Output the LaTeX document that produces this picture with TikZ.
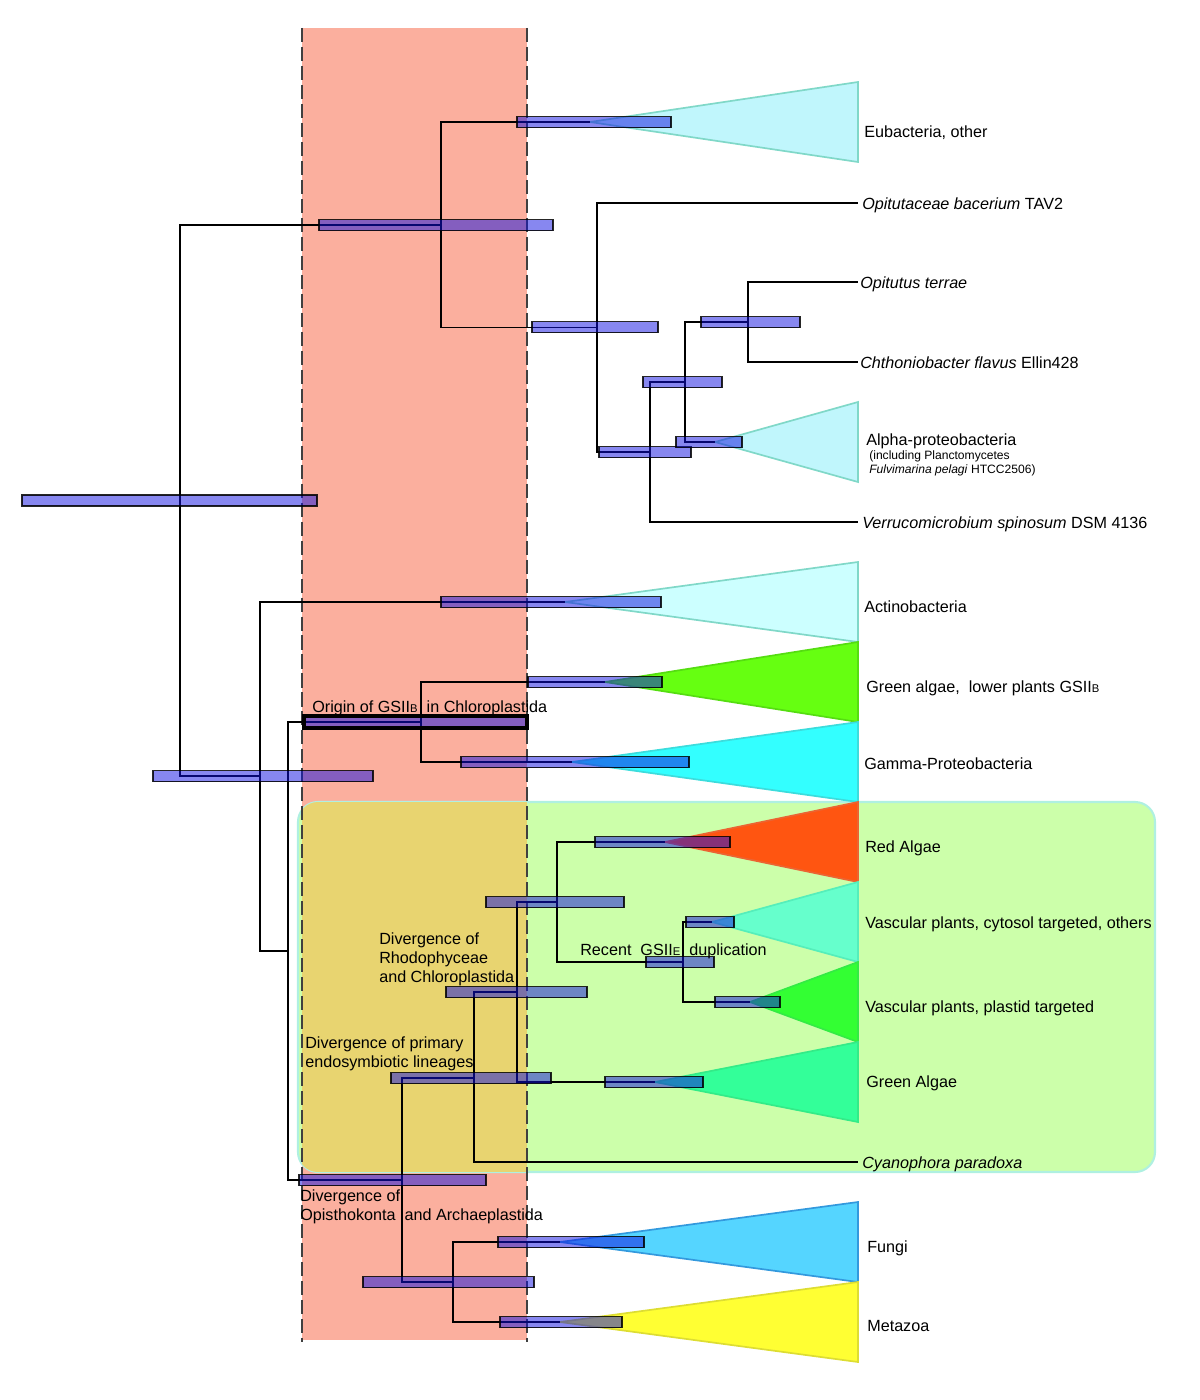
\documentclass[tikz,border=0pt]{standalone}
\usepackage{fontspec}
\setmainfont{Liberation Sans}

\definecolor{bandred}{RGB}{251,175,158}
\definecolor{boxgreen}{RGB}{204,255,170}
\definecolor{boxedge}{RGB}{175,240,225}
\definecolor{overlap}{RGB}{232,212,112}
\definecolor{hpdblue}{RGB}{15,15,225}
\definecolor{paleCyan}{RGB}{192,246,252}
\definecolor{paleCyanEdge}{RGB}{128,216,200}
\definecolor{actCyan}{RGB}{204,255,255}
\definecolor{cladeLime}{RGB}{102,255,17}
\definecolor{cladeLimeEdge}{RGB}{85,221,17}
\definecolor{cladeAqua}{RGB}{51,255,255}
\definecolor{cladeAquaEdge}{RGB}{60,220,220}
\definecolor{cladeRed}{RGB}{255,85,17}
\definecolor{cladeRedEdge}{RGB}{235,100,50}
\definecolor{cladeMint}{RGB}{102,255,204}
\definecolor{cladeMintEdge}{RGB}{85,238,187}
\definecolor{cladePlastid}{RGB}{51,255,51}
\definecolor{cladePlastidEdge}{RGB}{51,235,68}
\definecolor{cladeGreen}{RGB}{51,255,153}
\definecolor{cladeGreenEdge}{RGB}{51,235,136}
\definecolor{cladeFungi}{RGB}{85,213,255}
\definecolor{cladeFungiEdge}{RGB}{51,153,221}
\definecolor{cladeMeta}{RGB}{255,255,51}
\definecolor{cladeMetaEdge}{RGB}{221,221,51}

\newcommand{\lowsc}[1]{{\fontsize{8}{8}\selectfont #1}}

\begin{document}
\begin{tikzpicture}[x=0.025cm,y=-0.025cm,
    branch/.style={draw=black,line width=1.4pt},
    hpd/.style={draw=black,draw opacity=0.85,fill=hpdblue,fill opacity=0.5,line width=0.8pt},
    clade/.style={line width=1.2pt},
    lab/.style={anchor=base west,inner sep=0pt,font=\fontsize{11.5}{13.5}\selectfont},
    minor/.style={anchor=base west,inner sep=0pt,font=\fontsize{8.6}{10}\selectfont},
    note/.style={anchor=west,inner sep=0pt,align=left,font=\fontsize{11.5}{13.5}\selectfont}]
  \useasboundingbox (0,0) rectangle (1200,1400);

  % time window and plastid box
  \fill[bandred] (302,28) rectangle (527,1340);
  \filldraw[fill=boxgreen,draw=boxedge,line width=1.5pt,rounded corners=0.5cm]
    (298,802) rectangle (1155,1172);
  \begin{scope}
    \clip[rounded corners=0.5cm] (298,802) rectangle (1155,1172);
    \fill[overlap] (302,802) rectangle (527,1172);
  \end{scope}
  \foreach \x in {302,527}{
    \draw[black!75,line width=0.8pt,dash pattern=on 10pt off 3.5pt] (\x,28) -- (\x,1342);
  }

  \def \Nodes{
    root/180/500.5, E/441/225, A/597/327.5, B/650/452,
    C/685/382, D/748/322, F/260/776, G/288/951,
    H/421/722, I/402/1180, K/474/1078, J/517/992,
    L/557/902, M/683/962, N/453/1282,
    eub/590/122, opi/858/203, ote/858/282, cfl/858/362,
    alp/715/442, ver/858/522, act/565/602, gab/605/682,
    gam/572/762, red/665/842, vcy/712/922, vpl/750/1002,
    gra/655/1082, cya/858/1162, fun/560/1242, met/560/1322}
  \def \Clades{
    eub/122/paleCyan/paleCyanEdge,
    alp/442/paleCyan/paleCyanEdge,
    act/602/actCyan/paleCyanEdge,
    gab/682/cladeLime/cladeLimeEdge,
    gam/762/cladeAqua/cladeAquaEdge,
    red/842/cladeRed/cladeRedEdge,
    vcy/922/cladeMint/cladeMintEdge,
    vpl/1002/cladePlastid/cladePlastidEdge,
    gra/1082/cladeGreen/cladeGreenEdge,
    fun/1242/cladeFungi/cladeFungiEdge,
    met/1322/cladeMeta/cladeMetaEdge}
  \def \Edges{
    root/E, root/F, E/eub, E/A, A/opi, A/B, B/C, B/ver,
    C/D, C/alp, D/ote, D/cfl, F/act, F/G, G/H, G/I,
    H/gab, H/gam, I/K, I/N, K/J, K/cya, J/L, J/gra,
    L/red, L/M, M/vcy, M/vpl, N/fun, N/met}
  \def \Bars{
    22/317/500.5, 319/553/225, 517/671/122, 532/658/327,
    701/800/322, 643/722/382, 599/691/452, 676/742/442,
    441/661/602, 528/662/682, 304/527/722, 461/689/762,
    153/373/776, 595/730/842, 486/624/902, 686/734/922,
    646/714/962, 446/587/992, 715/780/1002, 391/551/1078,
    605/703/1082, 299/486/1180, 498/644/1242, 363/534/1282,
    500/622/1322}

  \foreach \id / \x / \y in \Nodes{
    \coordinate (\id) at (\x, \y);
  }
  \foreach \id / \y / \fc / \dc in \Clades{
    \filldraw[clade,fill=\fc,draw=\dc] (\id) -- (858, \y-40) -- (858, \y+40) -- cycle;
  }
  \foreach \p / \c in \Edges{
    \path[branch] (\p) |- (\c);
  }
  \foreach \l / \r / \y in \Bars{
    \path[hpd] (\l, \y-5.5) rectangle (\r, \y+5.5);
  }
  \draw[line width=2.4pt] (304,716) rectangle (527,728);

  % tip labels
  \node[lab] (eubL) at (864,137) {Eubacteria, other};
  \node[lab] (opiL) at (862,209) {\textit{Opitutaceae bacerium} TAV2};
  \node[lab] (oteL) at (860,288) {\textit{Opitutus terrae}};
  \node[lab] (cflL) at (860,368) {\textit{Chthoniobacter flavus} Ellin428};
  \node[lab] (alpL) at (866,445) {Alpha-proteobacteria};
  \node[minor] (alpA) at (869,459) {(including Planctomycetes};
  \node[minor] (alpB) at (869,473) {\textit{Fulvimarina pelagi} HTCC2506)};
  \node[lab] (verL) at (862,528) {\textit{Verrucomicrobium spinosum} DSM 4136};
  \node[lab] (actL) at (864,612) {Actinobacteria};
  \node[lab] (gabL) at (866,692) {Green algae,\ \ lower plants GSII\lowsc{B}};
  \node[lab] (gamL) at (864,769) {Gamma-Proteobacteria};
  \node[lab] (redL) at (865,852) {Red Algae};
  \node[lab] (vcyL) at (865,928) {Vascular plants, cytosol targeted, others};
  \node[lab] (vplL) at (865,1012) {Vascular plants, plastid targeted};
  \node[lab] (graL) at (866,1087) {Green Algae};
  \node[lab] (cyaL) at (862,1168) {\textit{Cyanophora paradoxa}};
  \node[lab] (funL) at (867,1252) {Fungi};
  \node[lab] (metL) at (867,1331) {Metazoa};

  % event labels
  \node[lab] (origin) at (312,712) {Origin of GSII\lowsc{B}\ \ in Chloroplastida};
  \node[note] (rhodo) at (379,959) {Divergence of\\Rhodophyceae\\and Chloroplastida};
  \node[lab] (recent) at (580,955) {Recent\ \ GSII\lowsc{E}\ \ duplication};
  \node[note] (primary) at (305,1053.5) {Divergence of primary\\endosymbiotic lineages};
  \node[note] (opistho) at (300,1206.5) {Divergence of\\Opisthokonta\ \ and Archaeplastida};
\end{tikzpicture}
\end{document}
